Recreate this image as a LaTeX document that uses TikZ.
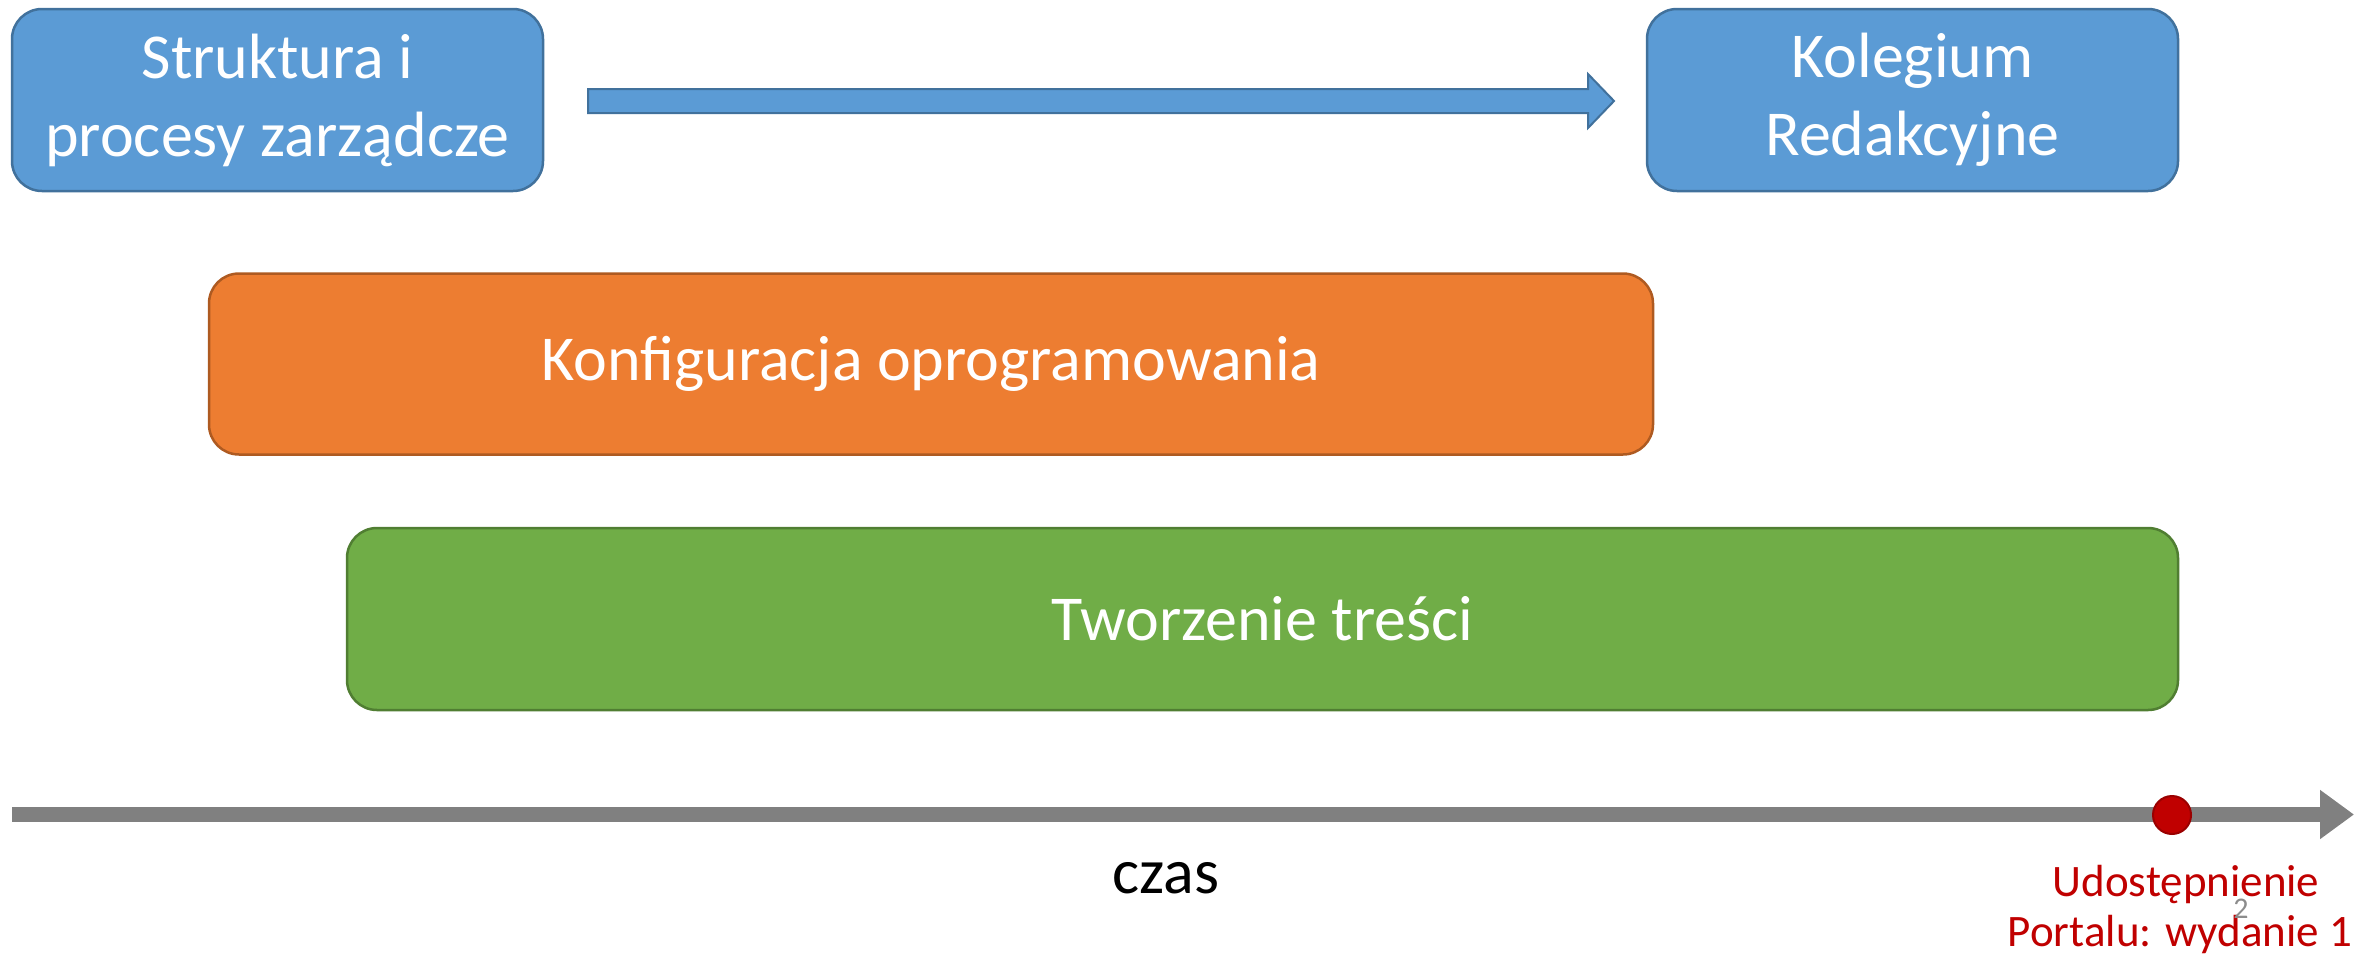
\documentclass[tikz,border=0pt]{standalone}
\usepackage{fontspec}
\setmainfont{Carlito}
\usetikzlibrary{arrows.meta}
\definecolor{bluefill}{HTML}{5B9BD5}
\definecolor{blueline}{HTML}{41719C}
\definecolor{orangefill}{HTML}{ED7D31}
\definecolor{orangeline}{HTML}{AE5A21}
\definecolor{greenfill}{HTML}{70AD47}
\definecolor{greenline}{HTML}{507E32}
\definecolor{reddot}{HTML}{C00000}
\definecolor{reddotline}{HTML}{9A0000}
\definecolor{axisgray}{HTML}{808080}
\definecolor{pagegray}{HTML}{8C8C8C}
\tikzset{
  box/.style={rounded corners=30pt, line width=2.5pt, inner sep=0pt,
    text=white, align=center, font=\fontsize{64}{78}\selectfont},
  bluebox/.style={box, fill=bluefill, draw=blueline, minimum width=531pt, minimum height=182pt},
  orangebox/.style={box, fill=orangefill, draw=orangeline},
  greenbox/.style={box, fill=greenfill, draw=greenline},
  milestone/.style={circle, fill=reddot, draw=reddotline, line width=2pt, minimum size=38pt, inner sep=0pt},
  redlabel/.style={text=reddot, align=center, font=\fontsize{45}{50}\selectfont, inner sep=0pt},
}
\begin{document}
\begin{tikzpicture}[x=1pt,y=-1pt]
\useasboundingbox (0,0) rectangle (2354,954);
\node[bluebox] (struktura) at (277.5,100) {Struktura i\\procesy zarządcze};
\node[bluebox] (kolegium) at (1912.5,100) {Kolegium\\Redakcyjne};
\draw[fill=bluefill, draw=blueline, line width=2pt]
  (588,89) -- (1588,89) -- (1588,74) -- (1614,101) -- (1588,128) -- (1588,113) -- (588,113) -- cycle;
\node[orangebox, minimum width=1444pt, minimum height=181pt] (konf) at (931,364) {Konfiguracja oprogramowania};
\node[greenbox, minimum width=1831pt, minimum height=182pt] (tworz) at (1262.5,619) {Tworzenie treści};
\coordinate (t0) at (12,814.5);
\coordinate (t1) at (2354,814.5);
\draw[axisgray, line width=15pt, -{Triangle[length=34pt,width=47pt]}] (t0) -- (t1);
\node[milestone] (dot) at (2172,815) {};
\node[anchor=base, font=\fontsize{64}{76}\selectfont, inner sep=0pt] (czas) at (1166,893) {czas};
\node[redlabel, anchor=base] (udo1) at (2186,896) {Udostępnienie};
\node[redlabel, anchor=base] (udo2) at (2180,946) {Portalu: wydanie 1};
\node[anchor=base, text=pagegray, font=\fontsize{30}{34}\selectfont, inner sep=0pt] (page) at (2241,918) {2};
\end{tikzpicture}
\end{document}
